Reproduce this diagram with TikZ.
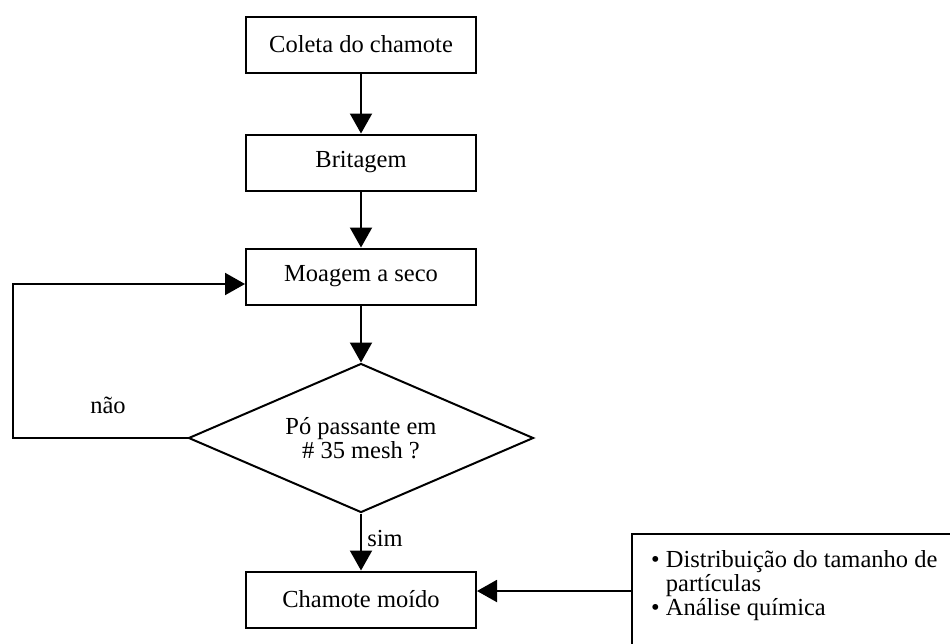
\documentclass[tikz,border=0pt]{standalone}
\usepackage{fontspec}
\setmainfont{Liberation Serif}
\usetikzlibrary{arrows.meta,shapes.geometric,calc}
\begin{document}
\begin{tikzpicture}[x=1pt,y=-1pt,
  every node/.style={font=\fontsize{24.5}{24}\selectfont},
  procbox/.style={draw, line width=2pt, minimum width=230pt, minimum height=56pt, inner sep=0pt},
  decision/.style={diamond, draw, line width=2pt, aspect=2.3, minimum width=345pt, minimum height=149pt, inner sep=0pt, align=center},
  infobox/.style={draw, line width=2pt, anchor=north west, minimum width=340pt, minimum height=114pt, inner sep=0pt},
  arr/.style={line width=2pt, -{Triangle[length=20pt,width=22pt]}}]
  \useasboundingbox (0,0) rectangle (950,643);
  \clip (0,0) rectangle (950,643);
  \node[procbox] (coleta) at (361,44.5) {Coleta do chamote};
  \node[procbox] (brit) at (361,162.5) {Britagem};
  \node[procbox] (moag) at (361,276.5) {Moagem a seco};
  \node[decision] (dec) at (361,438) {Pó passante em\\\# 35 mesh ?};
  \node[procbox] (cham) at (361,599.5) {Chamote moído};
  \node[infobox] (info) at (631,533) {};
  \node[anchor=base west, inner sep=0pt] (infotext) at (651,567) {\begin{tabular}[t]{@{}l@{}}\textbullet\ Distribuição do tamanho de\\ \hphantom{\textbullet\ }partículas\\ \textbullet\ Análise química\end{tabular}};
  \node (nao) at (108,405) {não};
  \node (sim) at (385,538) {sim};
  \coordinate (loopx) at (13,0);
  \draw[arr] (coleta.south) -- (brit.north);
  \draw[arr] (brit.south) -- (moag.north);
  \draw[arr] (moag.south) -- (dec.north);
  \draw[arr] (dec.south) -- (cham.north);
  \draw[arr] (info.west) -- (info.west -| cham.east);
  \draw[arr] (dec.west) -- (dec.west -| loopx) |- ([yshift=-7.5pt]moag.west);
\end{tikzpicture}
\end{document}
